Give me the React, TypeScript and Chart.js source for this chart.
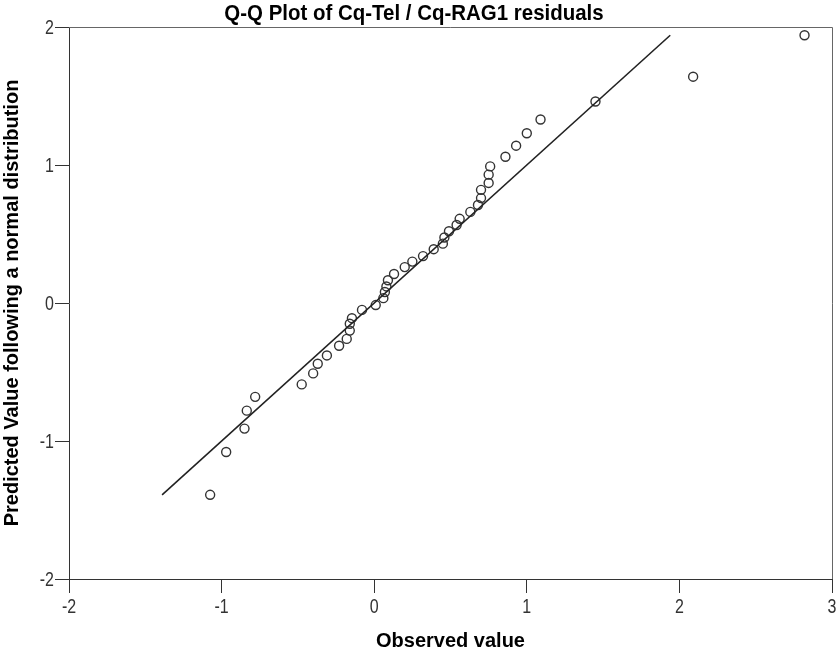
import React, { useEffect, useRef } from "react";
import { Chart, registerables } from "chart.js";

Chart.register(...registerables);

const TITLE = "Q-Q Plot of Cq-Tel / Cq-RAG1 residuals";
const X_TITLE = "Observed value";
const Y_TITLE = "Predicted Value following a normal distribution";

const observed = [
  -1.075, -0.97, -0.85, -0.835, -0.78, -0.475, -0.4, -0.37, -0.31, -0.23, -0.18,
  -0.16, -0.16, -0.146, -0.08, 0.01, 0.06, 0.07, 0.08, 0.09, 0.13, 0.2, 0.25,
  0.32, 0.39, 0.45, 0.46, 0.49, 0.54, 0.56, 0.63, 0.68, 0.7, 0.7, 0.75, 0.75,
  0.76, 0.86, 0.93, 1.0, 1.09, 1.45, 2.09, 2.82,
];
const predicted = [
  -1.39, -1.08, -0.91, -0.78, -0.68, -0.59, -0.51, -0.44, -0.38, -0.31, -0.26,
  -0.2, -0.15, -0.11, -0.05, -0.015, 0.035, 0.08, 0.12, 0.165, 0.21, 0.26, 0.3,
  0.34, 0.39, 0.43, 0.475, 0.52, 0.565, 0.61, 0.66, 0.71, 0.76, 0.82, 0.87, 0.93,
  0.99, 1.06, 1.14, 1.23, 1.33, 1.46, 1.64, 1.94,
];
const refLineEnds = [-1.39, 1.94];
const xRange = [-2, 3];
const yRange = [-2, 2];

const FONT = "'Liberation Sans', Arial, sans-serif";
const NARROW = 0.8;

const textPlugin = {
  id: "textPlugin",
  afterDraw(chart: any) {
    const { ctx, chartArea, scales } = chart;
    const { left, right, top, bottom } = chartArea;
    ctx.save();
    // frame top & right
    ctx.strokeStyle = "#666";
    ctx.lineWidth = 1;
    ctx.beginPath();
    ctx.moveTo(left, top + 0.5);
    ctx.lineTo(right + 0.5, top + 0.5);
    ctx.lineTo(right + 0.5, bottom);
    ctx.stroke();

    // tick labels (condensed)
    ctx.fillStyle = "#333";
    ctx.font = `20px ${FONT}`;
    ctx.textBaseline = "alphabetic";
    ctx.textAlign = "center";
    scales.x.ticks.forEach((t: any) => {
      const px = scales.x.getPixelForValue(t.value);
      ctx.save();
      ctx.translate(px, 613);
      ctx.scale(NARROW, 1);
      ctx.fillText(String(t.value), 0, 0);
      ctx.restore();
    });
    ctx.textAlign = "right";
    ctx.textBaseline = "middle";
    scales.y.ticks.forEach((t: any) => {
      const py = scales.y.getPixelForValue(t.value);
      ctx.save();
      ctx.translate(54, py + 1);
      ctx.scale(NARROW, 1);
      ctx.fillText(String(t.value), 0, 0);
      ctx.restore();
    });

    ctx.fillStyle = "#000";
    ctx.textAlign = "center";
    ctx.textBaseline = "alphabetic";
    ctx.font = `bold 22px ${FONT}`;
    ctx.save();
    ctx.translate(414, 20);
    ctx.scale(0.93, 1);
    ctx.fillText(TITLE, 0, 0);
    ctx.restore();
    ctx.font = `bold 20px ${FONT}`;
    ctx.fillText(X_TITLE, (left + right) / 2, 647);
    ctx.translate(18, (top + bottom) / 2);
    ctx.rotate(-Math.PI / 2);
    ctx.fillText(Y_TITLE, 0, 0);
    ctx.restore();
  },
};

export default function App() {
  const ref = useRef<HTMLCanvasElement | null>(null);
  useEffect(() => {
    if (!ref.current) return;
    const points = observed.map((x, i) => ({ x, y: predicted[i] }));
    const line = refLineEnds.map((v) => ({ x: v, y: v }));
    const chart = new Chart(ref.current, {
      type: "scatter",
      data: {
        datasets: [
          {
            type: "line",
            data: line,
            borderColor: "#222",
            borderWidth: 1.6,
            pointRadius: 0,
            showLine: true,
            fill: false,
          } as any,
          {
            data: points,
            pointStyle: "circle",
            pointRadius: 4.5,
            borderColor: "#333",
            borderWidth: 1.4,
            backgroundColor: "rgba(0,0,0,0)",
          },
        ],
      },
      options: {
        responsive: false,
        animation: false,
        events: [],
        layout: { padding: { top: 27, right: 8, left: 0, bottom: 0 } },
        plugins: { legend: { display: false }, title: { display: false }, tooltip: { enabled: false } },
        scales: {
          x: {
            type: "linear",
            min: xRange[0],
            max: xRange[1],
            afterFit(scale: any) {
              scale.height = 76;
            },
            ticks: {
              stepSize: 1,
              color: "rgba(0,0,0,0)",
              padding: 2,
              font: { family: FONT, size: 19 },
            },
            grid: {
              drawOnChartArea: false,
              drawTicks: true,
              tickLength: 14,
              color: "#333",
            },
            border: { display: true, color: "#333", width: 1 },
          },
          y: {
            type: "linear",
            min: yRange[0],
            max: yRange[1],
            afterFit(scale: any) {
              scale.width = 69;
            },
            ticks: {
              stepSize: 1,
              color: "rgba(0,0,0,0)",
              padding: 2,
              font: { family: FONT, size: 19 },
            },
            grid: {
              drawOnChartArea: false,
              drawTicks: true,
              tickLength: 14,
              color: "#333",
            },
            border: { display: true, color: "#333", width: 1 },
          },
        },
      },
      plugins: [textPlugin],
    });
    return () => chart.destroy();
  }, []);
  return (
    <div style={{ position: "fixed", left: 0, top: 0, width: 840, height: 655, background: "#fff" }}>
      <canvas ref={ref} width={840} height={655} />
    </div>
  );
}
